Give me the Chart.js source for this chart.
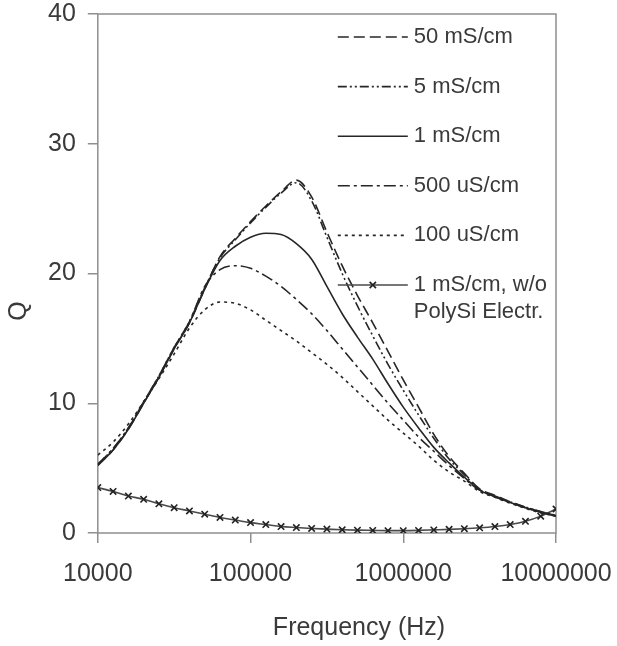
<!DOCTYPE html>
<html>
<head>
<meta charset="utf-8">
<script src="https://cdn.jsdelivr.net/npm/chart.js@4.4.1/dist/chart.umd.min.js"></script>
<style>
  html, body { margin: 0; padding: 0; background: #fff; }
  #wrap { width: 617px; height: 646px; }
</style>
</head>
<body>
<div id="wrap"><canvas id="q-chart" width="617" height="646"></canvas></div>
<script>
// ── Data ──────────────────────────────────────────────────
const freqHz = [10000, 12589, 15849, 19953, 25119, 31623, 39811, 50119, 63096, 79433,
                100000, 125893, 158489, 199526, 251189, 316228, 398107, 501187, 630957, 794328,
                1000000, 1258925, 1584893, 1995262, 2511886, 3162278, 3981072, 5011872, 6309573, 7943282,
                10000000];

const q50mS  = [5.2, 6.4, 8.0, 10.0, 12.0, 14.2, 16.2, 18.8, 21.3, 22.7,
                24.0, 25.2, 26.3, 27.2, 25.9, 23.2, 20.6, 18.3, 16.2, 14.0,
                11.8, 9.7, 7.6, 5.9, 4.6, 3.4, 2.9, 2.4, 2.0, 1.65, 1.35];
const q5mS   = [5.3, 6.5, 8.1, 10.1, 12.1, 14.3, 16.3, 18.9, 21.2, 22.6,
                23.9, 25.1, 26.2, 27.0, 25.6, 22.8, 20.0, 17.5, 15.2, 13.0,
                11.0, 9.1, 7.3, 5.7, 4.5, 3.35, 2.85, 2.4, 2.0, 1.65, 1.35];
const q1mS   = [5.2, 6.4, 8.0, 10.0, 12.0, 14.2, 16.2, 18.8, 21.0, 22.1,
                22.8, 23.1, 23.0, 22.3, 21.1, 19.0, 16.9, 15.1, 13.4, 11.5,
                9.7, 8.1, 6.6, 5.4, 4.3, 3.3, 2.8, 2.35, 1.95, 1.6, 1.3];
const q500uS = [5.3, 6.5, 8.1, 10.1, 12.1, 14.3, 16.3, 19.0, 20.3, 20.6,
                20.4, 19.8, 19.0, 18.0, 16.9, 15.6, 14.2, 12.8, 11.4, 10.0,
                8.7, 7.4, 6.3, 5.2, 4.2, 3.3, 2.8, 2.35, 1.95, 1.6, 1.3];
const q100uS = [6.0, 7.0, 8.4, 10.1, 11.9, 13.8, 15.8, 17.2, 17.8, 17.7,
                17.2, 16.4, 15.6, 14.8, 13.9, 13.0, 12.0, 10.9, 9.8, 8.7,
                7.7, 6.7, 5.6, 4.7, 4.0, 3.2, 2.75, 2.3, 1.9, 1.55, 1.3];
const q1mSNoPoly = [3.5, 3.2, 2.85, 2.6, 2.25, 1.95, 1.7, 1.45, 1.2, 1.0,
                    0.8, 0.65, 0.5, 0.42, 0.35, 0.3, 0.25, 0.22, 0.2, 0.18,
                    0.18, 0.2, 0.24, 0.28, 0.33, 0.4, 0.5, 0.65, 0.9, 1.3, 1.85];

const seriesLabels = ['50 mS/cm', '5 mS/cm', '1 mS/cm', '500 uS/cm', '100 uS/cm',
                      ['1 mS/cm, w/o', 'PolySi Electr.']];
const xTicks = [10000, 100000, 1000000, 10000000];
const yTicks = [0, 10, 20, 30, 40];

// ── Styling ───────────────────────────────────────────────
const FONT = '"Liberation Sans", Arial, sans-serif';
const TEXT = '#3a3a3a';
const AXIS = '#8f8f8f';
const INK  = '#262626';

const toPts = ys => ys.map((y, i) => ({ x: freqHz[i], y }));

const datasets = [
  { data: toPts(q50mS),  borderDash: [11, 5] },
  { data: toPts(q5mS),   borderDash: [9, 3, 2, 3, 2, 3] },
  { data: toPts(q1mS),   borderDash: [] },
  { data: toPts(q500uS), borderDash: [12, 4, 3, 4] },
  { data: toPts(q100uS), borderDash: [3, 4] },
  { data: toPts(q1mSNoPoly), borderDash: [], borderColor: '#4a4a4a',
    pointStyle: 'crossRot', pointRadius: 4.5, pointBorderWidth: 1.6, pointBorderColor: '#222' }
].map((d, i) => Object.assign({
  label: seriesLabels[i],
  borderColor: INK,
  borderWidth: 1.6,
  pointRadius: 0,
  fill: false,
  cubicInterpolationMode: 'monotone'
}, d));

// ── Frame, axis titles and in-plot legend ─────────────────
const decorPlugin = {
  id: 'decor',
  beforeDatasetsDraw(chart) {
    const { ctx, chartArea: a } = chart;
    ctx.save();
    ctx.strokeStyle = AXIS;
    ctx.lineWidth = 1.5;
    ctx.strokeRect(a.left, a.top, a.right - a.left, a.bottom - a.top);
    ctx.restore();
  },
  afterDraw(chart) {
    const { ctx, chartArea: a } = chart;
    ctx.save();
    ctx.fillStyle = TEXT;

    // axis titles
    ctx.font = '25px ' + FONT;
    ctx.textAlign = 'center';
    ctx.textBaseline = 'middle';
    ctx.fillText('Frequency (Hz)', 359, 628);
    ctx.save();
    ctx.translate(19, 311);
    ctx.rotate(-Math.PI / 2);
    ctx.fillText('Q', 0, 0);
    ctx.restore();

    // legend
    ctx.font = '22px ' + FONT;
    ctx.textAlign = 'left';
    const x0 = a.left + 240, x1 = a.left + 310, tx = a.left + 316;
    chart.data.datasets.forEach((ds, i) => {
      const y = a.top + 23 + i * 49.6;
      ctx.save();
      ctx.strokeStyle = ds.borderColor;
      ctx.lineWidth = ds.borderWidth;
      ctx.setLineDash(ds.borderDash);
      ctx.beginPath();
      ctx.moveTo(x0, y);
      ctx.lineTo(x1, y);
      ctx.stroke();
      ctx.restore();
      if (ds.pointStyle) {
        ctx.save();
        ctx.strokeStyle = ds.pointBorderColor;
        ctx.lineWidth = ds.pointBorderWidth;
        Chart.helpers.drawPoint(ctx, { pointStyle: ds.pointStyle, radius: ds.pointRadius, rotation: 0, borderWidth: ds.pointBorderWidth },
                                (x0 + x1) / 2, y);
        ctx.restore();
      }
      const lines = [].concat(ds.label);
      ctx.fillStyle = TEXT;
      lines.forEach((t, j) => ctx.fillText(t, tx, y + j * 27));
    });
    ctx.restore();
  }
};

// keep the label overhang out of the plot-area maths; layout padding decides it
const noOverhang = scale => {
  scale.paddingLeft = 0; scale.paddingRight = 0;
  scale.paddingTop = 0; scale.paddingBottom = 0;
};

new Chart(document.getElementById('q-chart'), {
  type: 'line',
  data: { datasets },
  plugins: [decorPlugin],
  options: {
    responsive: false,
    animation: false,
    events: [],
    layout: { padding: { left: 36, right: 61, top: 14, bottom: 41 } },
    plugins: { legend: { display: false }, tooltip: { enabled: false } },
    scales: {
      x: {
        type: 'logarithmic',
        min: xTicks[0],
        max: xTicks[xTicks.length - 1],
        afterBuildTicks: scale => { scale.ticks = xTicks.map(v => ({ value: v })); },
        afterFit: noOverhang,
        border: { display: false },
        grid: { drawOnChartArea: false, drawTicks: true, tickLength: 10, color: AXIS, lineWidth: 1.5 },
        ticks: { color: TEXT, font: { family: FONT, size: 25 }, padding: 16, maxRotation: 0,
                 callback: v => String(v) }
      },
      y: {
        min: yTicks[0],
        max: yTicks[yTicks.length - 1],
        afterBuildTicks: scale => { scale.ticks = yTicks.map(v => ({ value: v })); },
        afterFit: noOverhang,
        border: { display: false },
        grid: { drawOnChartArea: false, drawTicks: true, tickLength: 10, color: AXIS, lineWidth: 1.5 },
        ticks: { color: TEXT, font: { family: FONT, size: 25 }, padding: 12 }
      }
    }
  }
});
</script>
</body>
</html>
